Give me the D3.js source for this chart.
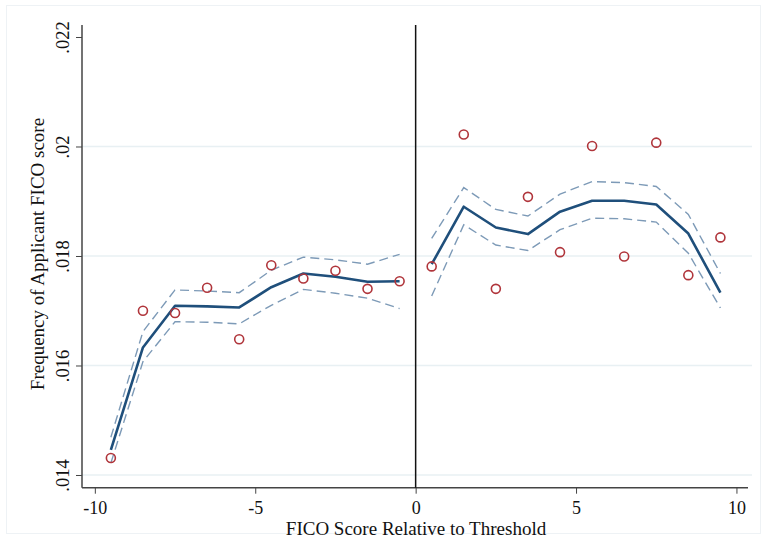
<!DOCTYPE html>
<html>
<head>
<meta charset="utf-8">
<script src="https://cdn.jsdelivr.net/npm/d3@7"></script>
<style>
  body { margin: 0; background: #fff; }
  text { font-family: "Liberation Serif", "DejaVu Serif", serif; fill: #111; }
</style>
</head>
<body>
<svg class="rd_chart" width="766" height="538"></svg>
<script>
var width = 766,
    height = 538;

// bins of FICO score relative to threshold
var bins = [-9.5, -8.5, -7.5, -6.5, -5.5, -4.5, -3.5, -2.5, -1.5, -0.5,
            0.5, 1.5, 2.5, 3.5, 4.5, 5.5, 6.5, 7.5, 8.5, 9.5];
var observed = [.01431, .01700, .01696, .01742, .01648, .01783, .01759, .01773, .01740, .01754,
                .01781, .02022, .01740, .01908, .01807, .02001, .01799, .02007, .01765, .01834];
var fitted = [.01446, .01633, .01709, .01708, .01706, .01743, .01768, .01762, .01753, .01754,
              .01785, .01890, .01852, .01840, .01881, .01901, .01901, .01894, .01841, .01733];
var upperCI = [.01469, .01662, .01738, .01736, .01733, .01774, .01798, .01793, .01785, .01803,
               .01832, .01925, .01885, .01873, .01913, .01936, .01934, .01927, .01876, .01768];
var lowerCI = [.01422, .01607, .01680, .01679, .01676, .01710, .01739, .01732, .01723, .01704,
               .01727, .01857, .01820, .01810, .01848, .01869, .01868, .01862, .01805, .01705];

var xTicks = [-10, -5, 0, 5, 10];
var xTickLabels = ["-10", "-5", "0", "5", "10"];
var yTicks = [.014, .016, .018, .02, .022];
var yTickLabels = [".014", ".016", ".018", ".02", ".022"];
var yGrid = [.014, .016, .018, .02];

var chart = d3.select(".rd_chart");

// outer graph region frame
chart.append("rect")
    .attr("x", 6.5).attr("y", 5.5)
    .attr("width", 754).attr("height", 528)
    .attr("fill", "#fff")
    .attr("stroke", "#eef2f5");

var x = d3.scaleLinear()
    .domain([-10.4, 10.36])
    .range([82, 748]);

var y = d3.scaleLinear()
    .domain([.013768, .022219])
    .range([487.7, 25]);

// grid
chart.append("g")
    .selectAll("line")
    .data(yGrid)
    .enter()
    .append("line")
    .attr("x1", x.range()[0])
    .attr("x2", 752)
    .attr("y1", function (d) { return y(d); })
    .attr("y2", function (d) { return y(d); })
    .style("stroke", "#e8f0f3")
    .style("stroke-width", 1.5);

// y axis
var yAxis = d3.axisLeft(y)
    .tickValues(yTicks)
    .tickSize(6)
    .tickFormat(function (d, i) { return yTickLabels[i]; });

var gy = chart.append("g")
    .attr("transform", "translate(" + x.range()[0] + ",0)")
    .call(yAxis);
gy.select(".domain").attr("d", "M0," + y.range()[1] + "V" + y.range()[0])
    .style("stroke", "#444").style("stroke-width", 1.5);
gy.selectAll(".tick line").style("stroke", "#444").style("stroke-width", 1);
gy.selectAll(".tick text")
    .attr("x", null).attr("dy", null)
    .attr("transform", "translate(-13.5,0) rotate(-90)")
    .attr("text-anchor", "middle")
    .style("font-size", "18.5px")
    .style("font-family", "Liberation Serif");

// x axis
var xAxis = d3.axisBottom(x)
    .tickValues(xTicks)
    .tickSize(6)
    .tickFormat(function (d, i) { return xTickLabels[i]; });

var gx = chart.append("g")
    .attr("transform", "translate(0," + y.range()[0] + ")")
    .call(xAxis);
gx.select(".domain").attr("d", "M" + x.range()[0] + ",0H" + x.range()[1])
    .style("stroke", "#444").style("stroke-width", 1.5);
gx.selectAll(".tick line").style("stroke", "#444").style("stroke-width", 1);
gx.selectAll(".tick text")
    .attr("y", 26.5).attr("dy", null)
    .style("font-size", "18px")
    .style("font-family", "Liberation Serif");

// threshold line
chart.append("line")
    .attr("x1", x(0)).attr("x2", x(0))
    .attr("y1", y.range()[1]).attr("y2", y.range()[0])
    .style("stroke", "#111")
    .style("stroke-width", 1.5);

// fitted lines, one per side of the threshold
var left = d3.range(bins.length).filter(function (i) { return bins[i] < 0; });
var right = d3.range(bins.length).filter(function (i) { return bins[i] > 0; });

function lineOf(values) {
    return d3.line()
        .x(function (i) { return x(bins[i]); })
        .y(function (i) { return y(values[i]); });
}

[left, right].forEach(function (side) {
    [upperCI, lowerCI].forEach(function (vals) {
        chart.append("path")
            .datum(side)
            .attr("d", lineOf(vals))
            .attr("fill", "none")
            .style("stroke", "#7d9ab7")
            .style("stroke-width", 1.4)
            .style("stroke-dasharray", "9,5");
    });
    chart.append("path")
        .datum(side)
        .attr("d", lineOf(fitted))
        .attr("fill", "none")
        .style("stroke", "#1f4f7b")
        .style("stroke-width", 2.6)
        .style("stroke-linejoin", "round");
});

// binned means
chart.selectAll(".dot")
    .data(d3.range(bins.length))
    .enter()
    .append("circle")
    .attr("class", "dot")
    .attr("cx", function (i) { return x(bins[i]); })
    .attr("cy", function (i) { return y(observed[i]); })
    .attr("r", 4.5)
    .attr("fill", "none")
    .style("stroke", "#b0353b")
    .style("stroke-width", 1.6);

// axis titles
chart.append("text")
    .attr("x", 416).attr("y", 534.5)
    .attr("text-anchor", "middle")
    .style("font-size", "19px")
    .text("FICO Score Relative to Threshold");

chart.append("text")
    .attr("transform", "translate(44,254) rotate(-90)")
    .attr("text-anchor", "middle")
    .style("font-size", "19px")
    .text("Frequency of Applicant FICO score");
</script>
</body>
</html>
